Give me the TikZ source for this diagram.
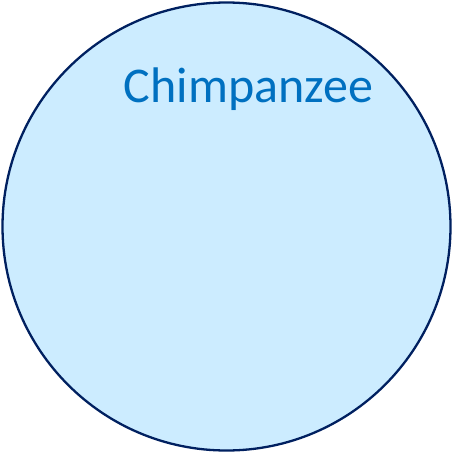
\documentclass[tikz,border=0pt]{standalone}
\usepackage{fontspec}
\setmainfont{Carlito}
\definecolor{setfill}{HTML}{CCECFF}
\definecolor{setline}{HTML}{002060}
\definecolor{settext}{HTML}{0070C0}
\begin{document}
\begin{tikzpicture}[x=1pt, y=-1pt,
			setcircle/.style = {draw=setline, fill=setfill, circle, line width=2.3pt, inner sep=0pt, minimum size=448pt},
			setlabel/.style = {text=settext, font=\fontsize{50}{60}\selectfont, anchor=base, inner sep=0pt}]
			
			\useasboundingbox (0,0) rectangle (453,453);
			\node[setcircle] (chimp) at (226.5,226.5) {};
			\node[setlabel] (label) at (248.5,102) {Chimpanzee};
		\end{tikzpicture}
\end{document}
